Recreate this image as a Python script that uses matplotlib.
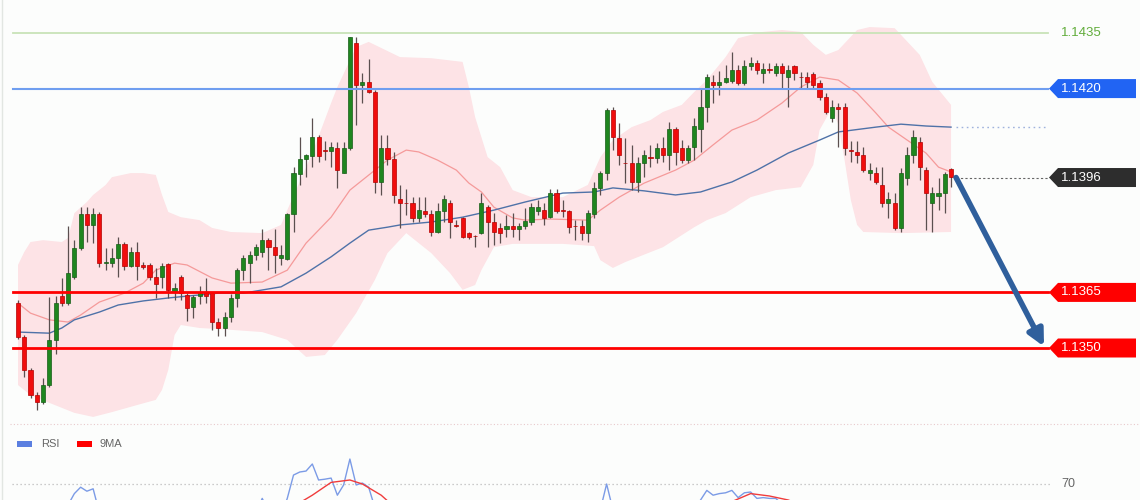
import numpy as np
import matplotlib
matplotlib.use('Agg')
import matplotlib.pyplot as plt
from matplotlib.patches import Polygon, Rectangle
from matplotlib.lines import Line2D
from matplotlib.transforms import blended_transform_factory

# ---- candles (150 bars) ----
opens = [1.13621, 1.13530, 1.13441, 1.13373, 1.13354, 1.13400, 1.13522, 1.13640, 1.13621, 1.13692,
         1.13770, 1.13862, 1.13832, 1.13862, 1.13729, 1.13729, 1.13743, 1.13781, 1.13721, 1.13759,
         1.13724, 1.13724, 1.13692, 1.13692, 1.13727, 1.13654, 1.13692, 1.13643, 1.13611, 1.13640,
         1.13648, 1.13648, 1.13570, 1.13554, 1.13584, 1.13635, 1.13710, 1.13729, 1.13751, 1.13759,
         1.13791, 1.13772, 1.13743, 1.13740, 1.13862, 1.13969, 1.14010, 1.14018, 1.14069, 1.14034,
         1.14032, 1.14040, 1.13972, 1.14040, 1.14323, 1.14210, 1.14218, 1.14191, 1.13948, 1.14040,
         1.14010, 1.13902, 1.13891, 1.13891, 1.13851, 1.13870, 1.13862, 1.13813, 1.13870, 1.13891,
         1.13832, 1.13851, 1.13810, 1.13802, 1.13810, 1.13880, 1.13840, 1.13824, 1.13821, 1.13829,
         1.13821, 1.13829, 1.13840, 1.13870, 1.13872, 1.13853, 1.13918, 1.13872, 1.13870, 1.13829,
         1.13829, 1.13810, 1.13862, 1.13932, 1.13972, 1.14142, 1.14067, 1.13999, 1.13999, 1.13948,
         1.13999, 1.14013, 1.14013, 1.14040, 1.14021, 1.14091, 1.14040, 1.14007, 1.14042, 1.14091,
         1.14150, 1.14218, 1.14210, 1.14218, 1.14220, 1.14250, 1.14215, 1.14261, 1.14269, 1.14242,
         1.14250, 1.14242, 1.14261, 1.14231, 1.14261, 1.14231, 1.14231, 1.14239, 1.14215, 1.14177,
         1.14121, 1.14150, 1.14150, 1.14032, 1.14029, 1.14021, 1.13972, 1.13972, 1.13940, 1.13891,
         1.13891, 1.13824, 1.13959, 1.14021, 1.14056, 1.13980, 1.13891, 1.13910, 1.13918, 1.13983]
closes = [1.13530, 1.13441, 1.13373, 1.13354, 1.13400, 1.13522, 1.13621, 1.13621, 1.13702, 1.13770,
          1.13862, 1.13832, 1.13862, 1.13729, 1.13732, 1.13743, 1.13781, 1.13721, 1.13759, 1.13721,
          1.13719, 1.13692, 1.13673, 1.13721, 1.13657, 1.13662, 1.13648, 1.13608, 1.13638, 1.13648,
          1.13640, 1.13570, 1.13554, 1.13584, 1.13635, 1.13710, 1.13743, 1.13751, 1.13772, 1.13791,
          1.13772, 1.13751, 1.13751, 1.13862, 1.13972, 1.14010, 1.14021, 1.14069, 1.14018, 1.14032,
          1.14042, 1.13980, 1.14040, 1.14339, 1.14210, 1.14218, 1.14191, 1.13948, 1.14040, 1.14010,
          1.13913, 1.13891, 1.13890, 1.13851, 1.13872, 1.13862, 1.13813, 1.13870, 1.13902, 1.13840,
          1.13830, 1.13799, 1.13799, 1.13801, 1.13891, 1.13840, 1.13813, 1.13810, 1.13829, 1.13821,
          1.13829, 1.13843, 1.13880, 1.13880, 1.13851, 1.13918, 1.13870, 1.13871, 1.13826, 1.13828,
          1.13810, 1.13864, 1.13932, 1.13972, 1.14142, 1.14069, 1.14021, 1.13998, 1.13948, 1.13999,
          1.14021, 1.14012, 1.14040, 1.14021, 1.14091, 1.14029, 1.14007, 1.14040, 1.14099, 1.14150,
          1.14231, 1.14210, 1.14218, 1.14228, 1.14250, 1.14215, 1.14261, 1.14269, 1.14250, 1.14253,
          1.14249, 1.14261, 1.14242, 1.14250, 1.14242, 1.14230, 1.14218, 1.14210, 1.14177, 1.14137,
          1.14150, 1.14145, 1.14040, 1.14031, 1.14021, 1.13980, 1.13980, 1.13948, 1.13891, 1.13902,
          1.13824, 1.13972, 1.14021, 1.14069, 1.13988, 1.13918, 1.13918, 1.13918, 1.13969, 1.13961]
highs = [1.13630, 1.13535, 1.13446, 1.13381, 1.13419, 1.13638, 1.13640, 1.13689, 1.13829, 1.13791,
         1.13880, 1.13880, 1.13878, 1.13867, 1.13770, 1.13770, 1.13799, 1.13786, 1.13772, 1.13786,
         1.13732, 1.13729, 1.13716, 1.13729, 1.13729, 1.13675, 1.13697, 1.13648, 1.13643, 1.13667,
         1.13689, 1.13651, 1.13581, 1.13597, 1.13646, 1.13716, 1.13751, 1.13762, 1.13781, 1.13821,
         1.13797, 1.13821, 1.13778, 1.13864, 1.13988, 1.14069, 1.14023, 1.14121, 1.14075, 1.14059,
         1.14056, 1.14056, 1.14056, 1.14339, 1.14339, 1.14242, 1.14280, 1.14196, 1.14075, 1.14075,
         1.14029, 1.13940, 1.13929, 1.13907, 1.13907, 1.13907, 1.13872, 1.13891, 1.13913, 1.13899,
         1.13845, 1.13853, 1.13813, 1.13805, 1.13918, 1.13886, 1.13864, 1.13837, 1.13859, 1.13864,
         1.13837, 1.13878, 1.13891, 1.13899, 1.13891, 1.13929, 1.13929, 1.13899, 1.13872, 1.13845,
         1.13845, 1.13872, 1.13948, 1.13978, 1.14148, 1.14150, 1.14107, 1.14067, 1.14048, 1.14015,
         1.14034, 1.14048, 1.14053, 1.14069, 1.14110, 1.14096, 1.14061, 1.14048, 1.14121, 1.14199,
         1.14239, 1.14237, 1.14247, 1.14264, 1.14299, 1.14264, 1.14277, 1.14285, 1.14277, 1.14269,
         1.14269, 1.14269, 1.14269, 1.14264, 1.14264, 1.14245, 1.14245, 1.14245, 1.14223, 1.14188,
         1.14169, 1.14161, 1.14161, 1.14059, 1.14059, 1.14042, 1.13999, 1.13988, 1.13988, 1.13921,
         1.13918, 1.13986, 1.14042, 1.14088, 1.14069, 1.13988, 1.13934, 1.13959, 1.13975, 1.13986]
lows = [1.13524, 1.13422, 1.13365, 1.13333, 1.13349, 1.13395, 1.13484, 1.13613, 1.13616, 1.13686,
        1.13764, 1.13786, 1.13783, 1.13719, 1.13710, 1.13719, 1.13692, 1.13710, 1.13719, 1.13684,
        1.13713, 1.13684, 1.13635, 1.13662, 1.13635, 1.13630, 1.13630, 1.13573, 1.13581, 1.13619,
        1.13621, 1.13549, 1.13532, 1.13532, 1.13570, 1.13611, 1.13684, 1.13675, 1.13737, 1.13746,
        1.13710, 1.13702, 1.13724, 1.13737, 1.13813, 1.13940, 1.13961, 1.13988, 1.14002, 1.14007,
        1.13988, 1.13932, 1.13972, 1.14034, 1.14102, 1.14161, 1.14188, 1.13918, 1.13913, 1.13994,
        1.13891, 1.13824, 1.13859, 1.13840, 1.13840, 1.13853, 1.13802, 1.13810, 1.13840, 1.13797,
        1.13826, 1.13797, 1.13794, 1.13772, 1.13808, 1.13772, 1.13778, 1.13783, 1.13799, 1.13799,
        1.13791, 1.13821, 1.13832, 1.13859, 1.13832, 1.13851, 1.13864, 1.13853, 1.13810, 1.13791,
        1.13791, 1.13786, 1.13851, 1.13913, 1.13953, 1.14034, 1.13994, 1.13945, 1.13926, 1.13921,
        1.13961, 1.13988, 1.13999, 1.14002, 1.13980, 1.13994, 1.13999, 1.13999, 1.14007, 1.14029,
        1.14110, 1.14161, 1.14183, 1.14215, 1.14215, 1.14210, 1.14210, 1.14250, 1.14239, 1.14215,
        1.14242, 1.14234, 1.14201, 1.14150, 1.14223, 1.14201, 1.14201, 1.14201, 1.14169, 1.14131,
        1.14110, 1.14042, 1.14021, 1.14002, 1.13999, 1.13975, 1.13953, 1.13942, 1.13880, 1.13851,
        1.13818, 1.13813, 1.13940, 1.13999, 1.13953, 1.13818, 1.13813, 1.13872, 1.13864, 1.13934]

# ---- indicators (bar index, price) ----
bb_up_idx = [0, 1, 2, 4, 7, 8, 9, 11, 12, 14, 15, 18, 20, 22, 23, 24, 26, 29, 31, 34, 39, 42, 43, 47,
             50, 51, 54, 56, 61, 66, 71, 72, 73, 75, 77, 79, 82, 87, 91, 93, 95, 98, 101, 103, 106,
             108, 110, 113, 115, 119, 122, 125, 127, 129, 131, 134, 136, 140, 144, 146, 149]
bb_up = [1.13724, 1.13759, 1.13786, 1.13791, 1.13786, 1.13797, 1.13864, 1.13894, 1.13913, 1.13940,
         1.13961, 1.13972, 1.13972, 1.13967, 1.13913, 1.13867, 1.13853, 1.13845, 1.13824, 1.13813,
         1.13810, 1.13832, 1.13872, 1.14026, 1.14161, 1.14204, 1.14312, 1.14326, 1.14285, 1.14282,
         1.14272, 1.14204, 1.14123, 1.14015, 1.13988, 1.13926, 1.13907, 1.13907, 1.13940, 1.14015,
         1.14061, 1.14096, 1.14115, 1.14137, 1.14156, 1.14191, 1.14223, 1.14285, 1.14336, 1.14353,
         1.14358, 1.14353, 1.14318, 1.14291, 1.14304, 1.14358, 1.14366, 1.14363, 1.14291, 1.14218,
         1.14156]
bb_lo_idx = [0, 2, 5, 9, 12, 15, 19, 22, 23, 24, 25, 26, 29, 34, 39, 43, 46, 49, 51, 54, 57, 59,
             62, 66, 69, 71, 73, 74, 76, 79, 87, 92, 93, 95, 97, 103, 108, 110, 113, 117, 121, 125,
             127, 128, 130, 131, 132, 133, 134, 135, 141, 149]
bb_lo = [1.13400, 1.13373, 1.13352, 1.13325, 1.13314, 1.13327, 1.13346, 1.13360, 1.13387, 1.13441,
         1.13535, 1.13562, 1.13554, 1.13549, 1.13543, 1.13522, 1.13476, 1.13481, 1.13522, 1.13594,
         1.13684, 1.13756, 1.13810, 1.13756, 1.13702, 1.13657, 1.13670, 1.13710, 1.13772, 1.13781,
         1.13781, 1.13775, 1.13737, 1.13716, 1.13732, 1.13772, 1.13826, 1.13845, 1.13864, 1.13907,
         1.13926, 1.13934, 1.13994, 1.14088, 1.14148, 1.14102, 1.14007, 1.13899, 1.13832, 1.13813,
         1.13810, 1.13813]
ma_mid_idx = [0, 2, 5, 8, 10, 13, 17, 20, 22, 25, 27, 31, 34, 39, 43, 46, 50, 53, 57, 59, 62, 64,
              67, 70, 72, 74, 76, 79, 81, 85, 91, 93, 96, 100, 105, 108, 111, 114, 118, 122, 125,
              128, 131, 134, 137, 139, 142, 145, 147, 149]
ma_mid = [1.13621, 1.13594, 1.13576, 1.13570, 1.13589, 1.13624, 1.13648, 1.13675, 1.13710, 1.13729,
          1.13724, 1.13689, 1.13675, 1.13678, 1.13710, 1.13783, 1.13853, 1.13926, 1.13980, 1.14007,
          1.14034, 1.14029, 1.14007, 1.13980, 1.13945, 1.13921, 1.13880, 1.13851, 1.13845, 1.13848,
          1.13845, 1.13872, 1.13907, 1.13945, 1.13980, 1.14007, 1.14048, 1.14088, 1.14115, 1.14161,
          1.14204, 1.14231, 1.14223, 1.14188, 1.14134, 1.14096, 1.14061, 1.14026, 1.13988, 1.13975]
ma_slow_idx = [0, 5, 7, 9, 13, 16, 20, 24, 27, 32, 36, 42, 46, 50, 53, 56, 59, 61, 66, 71, 76, 81,
               87, 92, 95, 100, 105, 109, 114, 118, 123, 128, 131, 137, 141, 145, 149]
ma_slow = [1.13543, 1.13540, 1.13554, 1.13576, 1.13597, 1.13616, 1.13627, 1.13635, 1.13640, 1.13648,
           1.13648, 1.13665, 1.13702, 1.13746, 1.13783, 1.13818, 1.13826, 1.13832, 1.13840, 1.13853,
           1.13872, 1.13894, 1.13918, 1.13921, 1.13932, 1.13924, 1.13913, 1.13921, 1.13948, 1.13980,
           1.14026, 1.14061, 1.14083, 1.14096, 1.14104, 1.14099, 1.14096]

# ---- RSI panel (only the upper part is visible) ----
rsi_idx = [0, 7, 8, 9, 10, 11, 12, 13, 14, 21, 29, 36, 38, 39, 40, 42, 43, 44, 45, 46, 47, 48, 49,
           50, 51, 52, 53, 54, 55, 56, 57, 58, 70, 85, 92, 93, 94, 95, 96, 104, 108, 109, 110, 111,
           112, 113, 114, 115, 116, 117, 118, 119, 120, 121, 122, 123, 124, 125, 126, 135, 149]
rsi = [40, 45, 57, 64, 68, 65.5, 67, 52, 46, 44, 44, 47, 52, 61, 53, 50, 61, 75.6, 77.5, 78.1, 82.5,
       72.5, 73, 73.7, 63, 69.4, 85.6, 69.4, 70.6, 68, 55, 48, 45, 46, 50, 54, 70, 54, 48, 50, 55,
       60, 66, 63, 64, 64.5, 66, 61.5, 64.5, 65, 61, 61.5, 61, 61, 57.5, 58, 54, 50, 45, 35, 40]
rsi_ma_idx = [0, 40, 44, 47, 50, 53, 55, 58, 60, 63, 108, 112, 114, 117, 120, 123, 127, 131, 149]
rsi_ma = [45, 45, 56, 63, 71, 72.5, 70, 63, 56, 45, 45, 54, 59, 64, 62.5, 60, 54, 45, 40]

# ---- key levels ----
levels = [1.1435, 1.1420, 1.1365, 1.1350]
level_text = ['1.1435', '1.1420', '1.1365', '1.1350']
last_price = 1.1396

W, H = 1140, 500
STEP = 6.262          # px per bar
X0 = 18               # px of first bar
PX_PER_PRICE = 37060  # px per 1.0 price
BG = '#fcfdfc'

plt.rcParams['font.family'] = ['Liberation Sans', 'DejaVu Sans']

fig = plt.figure(figsize=(W / 100, H / 100), dpi=100)
fig.patch.set_facecolor(BG)

def px2i(px):
    return (px - X0) / STEP

# main price panel: figure px y 0..425
ax = fig.add_axes([0, 75 / H, 1, 425 / H])
ax.set_facecolor(BG)
ax.set_xlim(px2i(0), px2i(W))
ax.set_ylim(1.1350 - 77 / PX_PER_PRICE, 1.1350 + 348 / PX_PER_PRICE)
ax.axis('off')

# bollinger envelope
poly_x = list(bb_up_idx) + list(bb_lo_idx[::-1])
poly_y = list(bb_up) + list(bb_lo[::-1])
ax.fill(poly_x, poly_y, facecolor='#fde3e6', edgecolor='none', zorder=1)

ax.plot(ma_mid_idx, ma_mid, color='#f59a9a', lw=0.9, zorder=2)
ax.plot(ma_slow_idx, ma_slow, color='#4f72a8', lw=1.0, zorder=2)

# candles
idx = np.arange(len(opens))
o = np.array(opens); c = np.array(closes)
up = c >= o
ax.vlines(idx, lows, highs, color='#5b4f4f', lw=0.9, zorder=3)
body_lo = np.minimum(o, c)
body_h = np.maximum(np.abs(c - o), 0.000025)
ax.bar(idx[up], body_h[up], bottom=body_lo[up], width=0.66, color='#1f861f',
       edgecolor='#175c17', linewidth=0.5, zorder=4)
ax.bar(idx[~up], body_h[~up], bottom=body_lo[~up], width=0.66, color='#f00d0d',
       edgecolor='#b30000', linewidth=0.5, zorder=4)

# horizontal levels
xa, xb = 13 / W, 1048 / W
ax.axhline(levels[0], xa, xb, color='#c9e3b8', lw=1.3, zorder=5)
ax.axhline(levels[1], xa, xb, color='#6f9ef0', lw=1.5, zorder=5)
ax.axhline(levels[2], xa, xb, color='#ff0000', lw=2.0, zorder=5)
ax.axhline(levels[3], xa, xb, color='#ff0000', lw=2.0, zorder=5)

last_i = len(opens) - 1
ax.hlines(ma_slow[-1], last_i + 0.8, px2i(1048), color='#9fb2dd', lw=1.0,
          linestyles=(0, (1.2, 2.5)), zorder=5)
ax.hlines(last_price, last_i + 0.8, px2i(1048), color='#666666', lw=0.8,
          linestyles=(0, (2, 2)), zorder=5)

# price tags
tr = blended_transform_factory(ax.transAxes, ax.transData)
half = 9.5 / PX_PER_PRICE
def tag(p, txt, col):
    a, b, r = 1049 / W, 1058 / W, 1136 / W
    pts = [(a, p), (b, p + half), (r, p + half), (r, p - half), (b, p - half)]
    ax.add_patch(Polygon(pts, closed=True, transform=tr, facecolor=col,
                         edgecolor='none', zorder=6, clip_on=False))
    ax.text(1061 / W, p, txt, transform=tr, color='white', fontsize=9.5,
            va='center', ha='left', zorder=7)

ax.text(1061 / W, levels[0], level_text[0], transform=tr, color='#62ad3c',
        fontsize=9.5, va='center', ha='left')
tag(levels[1], level_text[1], '#2164f3')
tag(last_price, '%.4f' % last_price, '#2d2d2d')
tag(levels[2], level_text[2], '#ff0000')
tag(levels[3], level_text[3], '#ff0000')

# projected move
ax.annotate('', xy=(px2i(1044), levels[3] + 1.5 / PX_PER_PRICE),
            xytext=(last_i + 0.8, last_price),
            arrowprops=dict(arrowstyle='-|>', color='#2f5f9c', lw=4,
                            mutation_scale=24, shrinkA=0, shrinkB=0),
            zorder=8)

# RSI panel: figure px y 425..500
ax2 = fig.add_axes([0, 0, 1, 75 / H])
ax2.set_facecolor(BG)
ax2.set_xlim(px2i(0), px2i(W))
ax2.set_ylim(70 - 16 / 1.6, 70 + 59 / 1.6)
ax2.axis('off')
ax2.axhline(70, 12 / W, 1050 / W, color='#bbbbbb', lw=0.9, linestyle=(0, (1, 2.2)))
ax2.text(1061 / W, 70, '70', color='#666666', fontsize=9, va='center', ha='left',
         transform=blended_transform_factory(ax2.transAxes, ax2.transData))
ax2.plot(rsi_idx, rsi, color='#7b9be6', lw=1.0)
ax2.plot(rsi_ma_idx, rsi_ma, color='#f03c3c', lw=1.0)

ly = (H - 444) / 75
ax2.add_patch(Rectangle((17 / W, ly - 0.035), 15 / W, 0.07, transform=ax2.transAxes,
                        facecolor='#5b7fe0', edgecolor='none'))
ax2.text(41 / W, ly, 'RSI', transform=ax2.transAxes, color='#666666', fontsize=8,
         va='center', ha='left')
ax2.add_patch(Rectangle((77 / W, ly - 0.035), 15 / W, 0.07, transform=ax2.transAxes,
                        facecolor='#ff0000', edgecolor='none'))
ax2.text(100 / W, ly, '9MA', transform=ax2.transAxes, color='#666666', fontsize=8,
         va='center', ha='left')

# frame details
fig.add_artist(Line2D([10 / W, 1], [76 / H, 76 / H], transform=fig.transFigure,
                      color='#e8c9cc', lw=0.8, linestyle=(0, (1, 2))))
fig.add_artist(Line2D([1.5 / W, 1.5 / W], [0, 1], transform=fig.transFigure,
                      color='#e2e6e2', lw=1.0))

fig.savefig('out.png', dpi=100, facecolor=BG)
